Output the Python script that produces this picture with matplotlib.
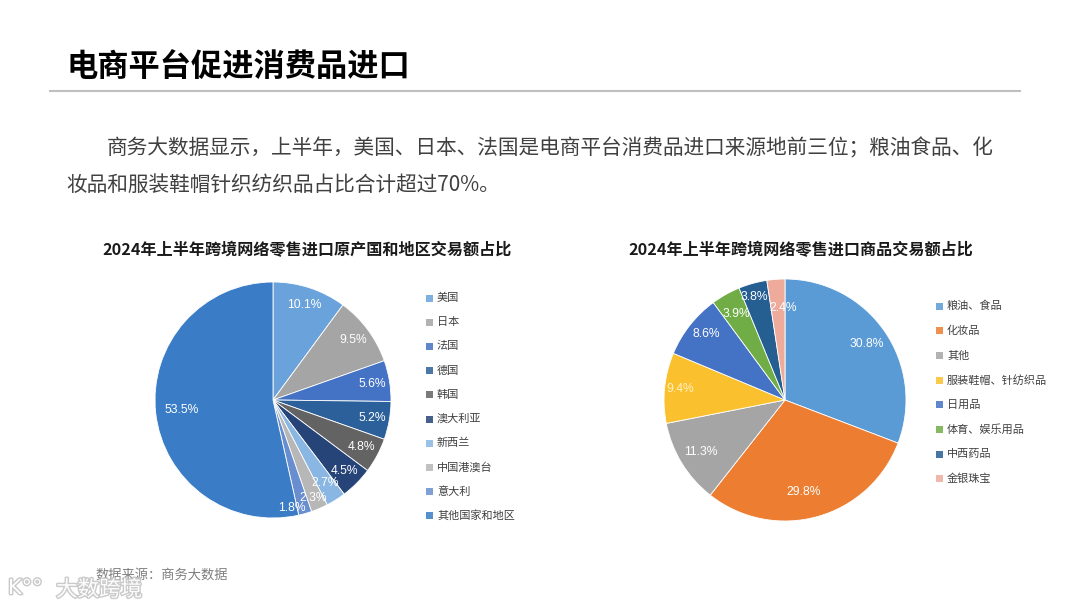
import numpy as np
import matplotlib.pyplot as plt
import matplotlib.patheffects as pe
from matplotlib.patches import Rectangle

plt.rcParams['font.family'] = ['Noto Sans CJK SC', 'DejaVu Sans']

# left chart: origin countries / regions
origin_labels = ['美国', '日本', '法国', '德国', '韩国', '澳大利亚', '新西兰',
                 '中国港澳台', '意大利', '其他国家和地区']
origin_share = [10.1, 9.5, 5.6, 5.2, 4.8, 4.5, 2.7, 2.3, 1.8, 53.5]
origin_colors = ['#6aa3dc', '#a5a5a5', '#4472c4', '#2b609a', '#636363',
                 '#264478', '#8ab6e3', '#b7b7b7', '#698ed0', '#3a7dc6']

# right chart: goods categories
goods_labels = ['粮油、食品', '化妆品', '其他', '服装鞋帽、针纺织品', '日用品',
                '体育、娱乐用品', '中西药品', '金银珠宝']
goods_share = [30.8, 29.8, 11.3, 9.4, 8.6, 3.9, 3.8, 2.4]
goods_colors = ['#5b9bd5', '#ed7d31', '#a5a5a5', '#fbc02d', '#4472c4',
                '#70ad47', '#255e91', '#eeab9c']

W, H = 1080, 608
fig = plt.figure(figsize=(W / 100, H / 100), dpi=100)
fig.patch.set_facecolor('white')


def px(x, y):
    # pixel coords (top-left origin) -> figure fraction
    return x / W, 1 - y / H


def pie_axes(cx, cy, r):
    return fig.add_axes([(cx - r) / W, (H - cy - r) / H, 2 * r / W, 2 * r / H])


def draw_pie(ax, values, colors, pct_colors, dist, nudges):
    wedges, texts = ax.pie(values, colors=colors, startangle=90, counterclock=False,
                           labels=['%.1f%%' % v for v in values], labeldistance=dist,
                           wedgeprops=dict(edgecolor='white', linewidth=0.6),
                           textprops=dict(color='white', fontsize=8.7,
                                          family=['Liberation Sans', 'DejaVu Sans'],
                                          ha='center', va='center'))
    for i, (w, t, c) in enumerate(zip(wedges, texts, pct_colors)):
        t.set_color(c)
        t.set_horizontalalignment('center')
        w.set_clip_on(False)
        # small labels get pushed a little so they do not pile up
        r, dth = nudges.get(i, (dist, 0))
        ang = np.deg2rad((w.theta1 + w.theta2) / 2 + dth)
        t.set_position((r * np.cos(ang), r * np.sin(ang)))
    ax.set_xlim(-1, 1)
    ax.set_ylim(-1, 1)
    ax.set_aspect('equal')


def draw_legend(x, y0, step, labels, colors):
    for i, (lab, col) in enumerate(zip(labels, colors)):
        y = y0 + i * step
        fx, fy = px(x, y + 3.5)
        fig.patches.append(Rectangle((fx, fy), 7 / W, 7 / H, facecolor=col,
                                     edgecolor='none', alpha=0.85,
                                     transform=fig.transFigure))
        fig.text(*px(x + 11, y), lab, fontsize=8, color='#404040', va='center', ha='left')


# heading
fig.text(*px(66, 68), '电商平台促进消费品进口', fontsize=22.5, fontweight='bold',
         color='black', va='center', ha='left')
fig.add_artist(plt.Line2D([50 / W, 1020 / W], [1 - 91 / H, 1 - 91 / H],
                          color='#bfbfbf', linewidth=1.5))

# paragraph
fig.text(*px(107, 148), '商务大数据显示，上半年，美国、日本、法国是电商平台消费品进口来源地前三位；粮油食品、化',
         fontsize=14.9, color='#404040', va='center', ha='left')
fig.text(*px(66, 185), '妆品和服装鞋帽针织纺织品占比合计超过70%。',
         fontsize=14.9, color='#404040', va='center', ha='left')

# chart titles
fig.text(*px(307, 250), '2024年上半年跨境网络零售进口原产国和地区交易额占比',
         fontsize=11.6, fontweight='bold', color='#1a1a1a', va='center', ha='center')
fig.text(*px(801, 250), '2024年上半年跨境网络零售进口商品交易额占比',
         fontsize=11.6, fontweight='bold', color='#1a1a1a', va='center', ha='center')

ax1 = pie_axes(273, 400, 118)
draw_pie(ax1, origin_share, origin_colors, ['white'] * len(origin_share), 0.85,
         {6: (0.83, 0), 7: (0.90, -1), 8: (0.93, -6), 9: (0.78, 0)})

ax2 = pie_axes(785, 400, 121)
right_pct = ['white'] * len(goods_share)
right_pct[3] = '#fff3c4'
draw_pie(ax2, goods_share, goods_colors, right_pct, 0.82,
         {1: (0.78, -4), 3: (0.87, 0), 4: (0.85, -2), 6: (0.89, 1), 7: (0.76, -3)})

draw_legend(426, 298, 24.2, origin_labels, origin_colors)
draw_legend(936, 306, 24.7, goods_labels, goods_colors)

# source note and watermark
fig.text(*px(95, 575), '数据来源：商务大数据', fontsize=9.5, color='#7f7f7f',
         va='center', ha='left', style='italic')
wm = fig.text(*px(56, 590), '大数跨境', fontsize=15.5, color='white',
              va='center', ha='left', alpha=0.95)
wm.set_path_effects([pe.withStroke(linewidth=2, foreground='#c8c8c8')])
lg = fig.text(*px(8, 588), 'K°°', fontsize=15, color='white', va='center', ha='left',
              family=['DejaVu Sans'])
lg.set_path_effects([pe.withStroke(linewidth=2, foreground='#c8c8c8')])

fig.savefig('out.png', dpi=100)
